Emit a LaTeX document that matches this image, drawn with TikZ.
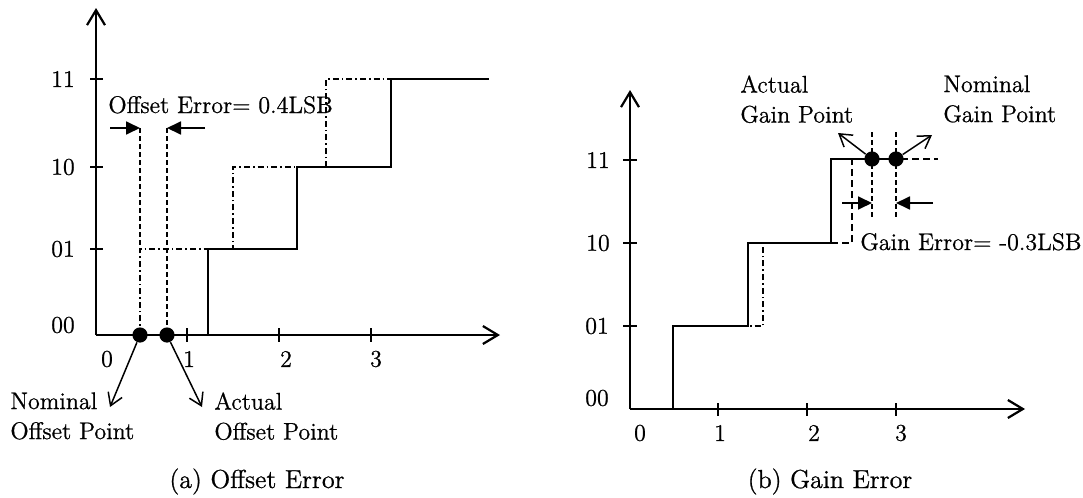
\documentclass[tikz,border=0pt]{standalone}
\usepackage{fontspec}
\setmainfont{Latin Modern Roman}[FakeBold=0.8]
\usetikzlibrary{arrows.meta}
\begin{document}
\begin{tikzpicture}[x=0.5pt, y=-0.5pt,
  axisline/.style={line width=1.1pt, -{Straight Barb[length=7.5pt,width=9pt]}},
  tickmark/.style={line width=0.9pt},
  actual/.style={line width=1.1pt},
  nominal/.style={line width=0.9pt, dash pattern=on 3pt off 1.5pt on 0.8pt off 1.5pt},
  nominaldash/.style={line width=0.9pt, dash pattern=on 3.5pt off 2pt},
  guide/.style={line width=0.65pt, dash pattern=on 2.5pt off 1.5pt},
  pointdot/.style={circle, fill=black, inner sep=0pt, minimum size=7.6pt},
  pointer/.style={line width=0.75pt, -{Straight Barb[length=6pt,width=7.5pt]}},
  errarrow/.style={line width=0.9pt, -{Triangle[length=7pt,width=6.5pt]}},
  lbl/.style={font=\fontsize{12}{15}\selectfont, inner sep=0pt},
  captext/.style={font=\fontsize{13}{16}\selectfont, inner sep=0pt}]
\useasboundingbox (0,0) rectangle (1083,498);

% ---------------- (a) Offset error ----------------
\draw[axisline] (96,335) -- (96,8);
\draw[axisline] (96,335) -- (500,335);
\foreach \yy in {79,167,249} \draw[tickmark] (90,\yy) -- (103,\yy);
\foreach \xx in {187,279,371} \draw[tickmark] (\xx,328) -- (\xx,342);
\node[lbl] (ya11) at (63,79) {11};
\node[lbl] (ya10) at (63,167) {10};
\node[lbl] (ya01) at (63,249) {01};
\node[lbl] (ya00) at (63,325) {00};
\node[lbl] (xa0) at (107,359) {0};
\node[lbl] (xa1) at (189,359) {1};
\node[lbl] (xa2) at (286,359) {2};
\node[lbl] (xa3) at (376,359) {3};

% nominal and actual transfer curves
\draw[nominal] (140,335) -- (140,249) -- (233,249) -- (233,167) -- (326,167) -- (326,79) -- (418,79);
\draw[actual] (96,335) -- (208,335) -- (208,249) -- (297,249) -- (297,167) -- (391,167) -- (391,79) -- (489,79);

% offset points and error span
\coordinate (nomtop) at (140,128);
\coordinate (acttop) at (167,128);
\draw[guide] (nomtop) -- (140,249);
\draw[guide] (acttop) -- (167,335);
\node[pointdot] (nomoff) at (140,335) {};
\node[pointdot] (actoff) at (167,335) {};
\coordinate (offL) at (110,128);
\coordinate (offR) at (205,128);
\draw[errarrow] (offL) -- (nomtop);
\draw[errarrow] (offR) -- (acttop);
\node[lbl, anchor=base west] (offerr) at (108,113) {Offset Error= 0.4LSB};

\coordinate (nomofftip) at (110,407);
\coordinate (actofftip) at (202,407);
\draw[pointer] (nomoff) -- (nomofftip);
\draw[pointer] (actoff) -- (actofftip);
\node[lbl, anchor=north west, align=left] (nomofflbl) at (10,392) {Nominal\\Offset Point};
\node[lbl, anchor=north west, align=left] (actofflbl) at (214,392) {Actual\\Offset Point};

\node[captext, anchor=base] (capa) at (257,488) {(a) Offset Error};

% ---------------- (b) Gain error ----------------
\draw[axisline] (630,409) -- (630,90);
\draw[axisline] (630,409) -- (1025,409);
\foreach \yy in {160,243,326} \draw[tickmark] (623,\yy) -- (637,\yy);
\foreach \xx in {718,807,896} \draw[tickmark] (\xx,403) -- (\xx,416);
\node[lbl] (yb11) at (598,160) {11};
\node[lbl] (yb10) at (598,243) {10};
\node[lbl] (yb01) at (597,326) {01};
\node[lbl] (yb00) at (597,398) {00};
\node[lbl] (xb0) at (640,433) {0};
\node[lbl] (xb1) at (720,433) {1};
\node[lbl] (xb2) at (814,433) {2};
\node[lbl] (xb3) at (901,433) {3};

% nominal and actual transfer curves
\draw[nominal] (673,326) -- (763,326) -- (763,243) -- (831,243);
\draw[nominaldash] (831,243) -- (852,243) -- (852,159) -- (938,159);
\draw[actual] (630,409) -- (673,409) -- (673,326) -- (748,326) -- (748,243) -- (831,243) -- (831,159) -- (905,159);

% gain points and error span
\draw[guide] (872,132) -- (872,220);
\draw[guide] (896,132) -- (896,220);
\node[pointdot] (actgain) at (872,159) {};
\node[pointdot] (nomgain) at (896,159) {};
\coordinate (actmid) at (872,203);
\coordinate (nommid) at (896,203);
\coordinate (gainL) at (842,203);
\coordinate (gainR) at (933,203);
\draw[errarrow] (gainL) -- (actmid);
\draw[errarrow] (gainR) -- (nommid);
\node[lbl, anchor=base west] (gainerr) at (860,250) {Gain Error= -0.3LSB};

\coordinate (actgaintip) at (838,133);
\coordinate (nomgaintip) at (932,135);
\draw[pointer] (actgain) -- (actgaintip);
\draw[pointer] (nomgain) -- (nomgaintip);
\node[lbl, anchor=north west, align=left] (actgainlbl) at (740,75) {Actual\\Gain Point};
\node[lbl, anchor=north west, align=left] (nomgainlbl) at (943,75) {Nominal\\Gain Point};

\node[captext, anchor=base] (capb) at (830,488) {(b) Gain Error};
\end{tikzpicture}
\end{document}
